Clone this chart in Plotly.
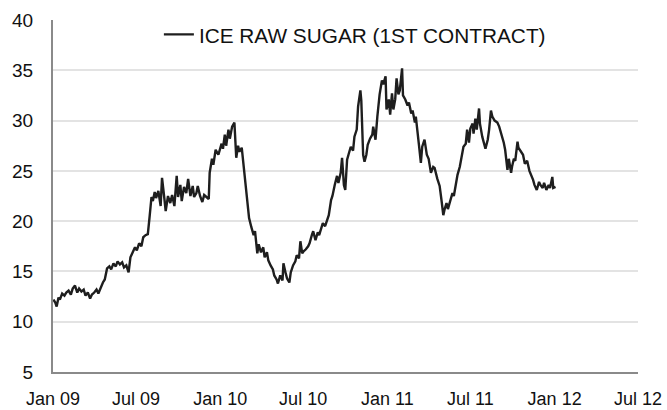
import plotly.graph_objects as go

dates = [
    "2009-01-02","2009-01-06","2009-01-09","2009-01-13","2009-01-16","2009-01-21","2009-01-26","2009-01-30",
    "2009-02-04","2009-02-09","2009-02-13","2009-02-18","2009-02-23","2009-02-27","2009-03-04","2009-03-09",
    "2009-03-13","2009-03-18","2009-03-23","2009-03-27","2009-04-01","2009-04-06","2009-04-10","2009-04-15",
    "2009-04-20","2009-04-24","2009-04-29","2009-05-04","2009-05-08","2009-05-13","2009-05-18","2009-05-22",
    "2009-05-27","2009-06-01","2009-06-05","2009-06-10","2009-06-15","2009-06-19","2009-06-24","2009-06-29",
    "2009-07-03","2009-07-08","2009-07-13","2009-07-17","2009-07-22","2009-07-27","2009-07-31","2009-08-04",
    "2009-08-07","2009-08-11","2009-08-14","2009-08-19","2009-08-24","2009-08-27","2009-09-01","2009-09-04",
    "2009-09-09","2009-09-14","2009-09-18","2009-09-23","2009-09-28","2009-10-01","2009-10-06","2009-10-09",
    "2009-10-14","2009-10-19","2009-10-23","2009-10-28","2009-11-02","2009-11-05","2009-11-10","2009-11-13",
    "2009-11-18","2009-11-23","2009-11-27","2009-12-02","2009-12-07","2009-12-09","2009-12-14","2009-12-17",
    "2009-12-22","2009-12-28","2010-01-04","2010-01-07","2010-01-11","2010-01-14","2010-01-19","2010-01-22",
    "2010-01-27","2010-02-01","2010-02-03","2010-02-05","2010-02-09","2010-02-12","2010-02-17","2010-02-19",
    "2010-02-23","2010-02-26","2010-03-02","2010-03-05","2010-03-10","2010-03-15","2010-03-18","2010-03-23",
    "2010-03-26","2010-03-31","2010-04-05","2010-04-08","2010-04-13","2010-04-16","2010-04-21","2010-04-26",
    "2010-04-29","2010-05-04","2010-05-07","2010-05-12","2010-05-17","2010-05-19","2010-05-24","2010-05-27",
    "2010-06-01","2010-06-04","2010-06-09","2010-06-14","2010-06-17","2010-06-22","2010-06-25","2010-06-29",
    "2010-07-02","2010-07-07","2010-07-12","2010-07-15","2010-07-20","2010-07-23","2010-07-28","2010-08-02",
    "2010-08-05","2010-08-10","2010-08-13","2010-08-18","2010-08-23","2010-08-26","2010-08-31","2010-09-03",
    "2010-09-08","2010-09-13","2010-09-16","2010-09-21","2010-09-24","2010-09-28","2010-10-01","2010-10-05",
    "2010-10-08","2010-10-13","2010-10-18","2010-10-21","2010-10-26","2010-10-29","2010-11-03","2010-11-05",
    "2010-11-09","2010-11-12","2010-11-16","2010-11-19","2010-11-24","2010-11-29","2010-12-01","2010-12-06",
    "2010-12-10","2010-12-15","2010-12-20","2010-12-23","2010-12-28","2010-12-30","2011-01-04","2011-01-07",
    "2011-01-11","2011-01-14","2011-01-18","2011-01-21","2011-01-25","2011-01-28","2011-02-02","2011-02-04",
    "2011-02-09","2011-02-14","2011-02-17","2011-02-22","2011-02-25","2011-03-02","2011-03-04","2011-03-08",
    "2011-03-11","2011-03-15","2011-03-18","2011-03-23","2011-03-28","2011-04-01","2011-04-06","2011-04-11",
    "2011-04-14","2011-04-20","2011-04-25","2011-04-29","2011-05-03","2011-05-06","2011-05-10","2011-05-13",
    "2011-05-18","2011-05-23","2011-05-26","2011-05-31","2011-06-03","2011-06-08","2011-06-13","2011-06-16",
    "2011-06-21","2011-06-24","2011-06-28","2011-07-01","2011-07-06","2011-07-08","2011-07-12","2011-07-15",
    "2011-07-20","2011-07-22","2011-07-27","2011-08-01","2011-08-03","2011-08-08","2011-08-11","2011-08-15",
    "2011-08-18","2011-08-23","2011-08-29","2011-09-02","2011-09-07","2011-09-12","2011-09-15","2011-09-20",
    "2011-09-23","2011-09-28","2011-09-30","2011-10-04","2011-10-07","2011-10-12","2011-10-14","2011-10-19",
    "2011-10-24","2011-10-28","2011-11-02","2011-11-07","2011-11-10","2011-11-15","2011-11-18","2011-11-23",
    "2011-11-28","2011-12-01","2011-12-06","2011-12-09","2011-12-14","2011-12-19","2011-12-22","2011-12-27",
    "2011-12-29","2012-01-03",
]

prices = [
    12.2,11.9,11.5,12.4,12.2,12.8,12.6,12.9,
    13.1,12.7,13.3,13.6,12.9,13.3,13.0,13.2,
    12.6,12.9,12.3,12.7,12.9,13.2,12.8,13.4,
    13.9,14.2,15.3,15.5,15.2,15.8,15.5,16.0,
    15.7,15.9,15.4,15.6,14.9,16.4,16.9,17.4,
    17.1,17.8,17.5,18.4,18.6,18.7,20.5,22.4,
    22.0,22.9,22.3,23.0,21.5,24.3,22.3,21.0,
    22.5,21.8,22.6,21.5,24.5,22.4,23.6,22.0,
    23.4,22.8,24.2,22.5,23.5,22.4,22.8,23.5,
    22.5,21.9,22.6,22.4,22.2,24.8,26.2,25.6,
    27.1,26.6,27.7,27.2,28.6,27.5,29.1,28.2,
    29.4,29.8,28.4,26.3,27.5,26.9,27.3,26.4,
    24.5,23.5,22.0,20.3,19.4,18.6,19.0,16.8,
    17.7,16.9,17.4,16.4,16.9,16.1,15.6,15.2,
    14.6,14.2,13.8,14.6,14.1,15.8,14.8,14.3,
    13.9,14.9,15.6,16.0,16.6,16.3,18.0,16.8,
    17.0,17.2,17.5,17.8,18.6,19.0,18.1,18.9,
    18.6,19.4,19.8,19.5,20.2,20.6,22.1,22.5,
    23.6,24.5,23.8,24.8,26.3,23.6,23.1,26.1,
    26.6,27.4,27.0,28.4,29.1,31.4,33.0,32.0,
    26.6,25.9,26.6,27.6,28.2,28.6,29.4,28.1,
    30.4,32.6,34.0,33.6,34.4,31.1,32.1,30.6,
    32.7,31.1,32.1,34.2,32.6,33.0,35.2,32.5,
    32.1,31.5,31.8,30.7,31.0,29.8,30.4,28.4,
    27.5,25.8,27.4,28.1,26.6,26.2,24.8,25.4,
    25.3,24.2,23.5,22.1,20.6,21.2,21.8,21.2,
    22.0,22.8,22.5,23.8,24.6,25.4,26.8,27.4,
    27.7,29.1,27.8,29.2,29.7,28.7,30.2,29.1,
    31.2,29.7,28.4,27.6,27.2,28.1,29.1,31.0,
    30.4,30.0,29.8,29.4,28.7,27.8,27.1,25.1,
    26.2,24.8,25.4,26.2,26.0,27.9,27.3,27.0,
    26.6,25.7,26.0,25.0,24.7,24.1,23.6,23.1,
    23.9,23.6,23.3,23.8,23.1,23.6,23.3,24.4,
    23.3,23.4,
]

series_name = "ICE RAW SUGAR (1ST CONTRACT)"
x_tick_vals = ["2009-01-01","2009-07-01","2010-01-01","2010-07-01","2011-01-01",
               "2011-07-01","2012-01-01","2012-07-01"]
x_tick_text = ["Jan 09","Jul 09","Jan 10","Jul 10","Jan 11","Jul 11","Jan 12","Jul 12"]
y_ticks = [5, 10, 15, 20, 25, 30, 35, 40]

FONT = "Liberation Sans, Arial, Helvetica, sans-serif"

fig = go.Figure()
fig.add_trace(go.Scatter(
    x=dates, y=prices, mode="lines", name=series_name,
    line=dict(color="#1e1e1e", width=2.4),
    showlegend=True,
))

fig.update_layout(
    width=667, height=410,
    margin=dict(l=53, r=29, t=20, b=38, autoexpand=False),
    paper_bgcolor="white", plot_bgcolor="white",
    font=dict(family=FONT, size=18, color="#111"),
    showlegend=True,
    legend=dict(
        x=0.181, y=1.016, xanchor="left", yanchor="top",
        bgcolor="rgba(0,0,0,0)", borderwidth=0,
        font=dict(family=FONT, size=20.8, color="#111"),
        itemwidth=30,
    ),
    xaxis=dict(
        type="date",
        range=["2009-01-01", "2012-07-01"],
        tickvals=x_tick_vals, ticktext=x_tick_text,
        showgrid=False, zeroline=False, automargin=False,
        showline=True, linecolor="#8a8a8a", linewidth=2,
        ticks="", ticklabelstandoff=9,
        tickfont=dict(family=FONT, size=18, color="#111"),
    ),
    yaxis=dict(
        range=[5, 40], tickvals=y_ticks,
        showgrid=True, gridcolor="#e3e3e3", gridwidth=1.5,
        zeroline=False, automargin=False,
        showline=True, linecolor="#8a8a8a", linewidth=2,
        ticks="", ticklabelstandoff=14,
        tickfont=dict(family=FONT, size=19, color="#111"),
    ),
)

fig.write_html(
    "out.html",
    config={"displayModeBar": False},
    post_script="document.body.style.margin='0';document.body.style.overflow='hidden';",
)
